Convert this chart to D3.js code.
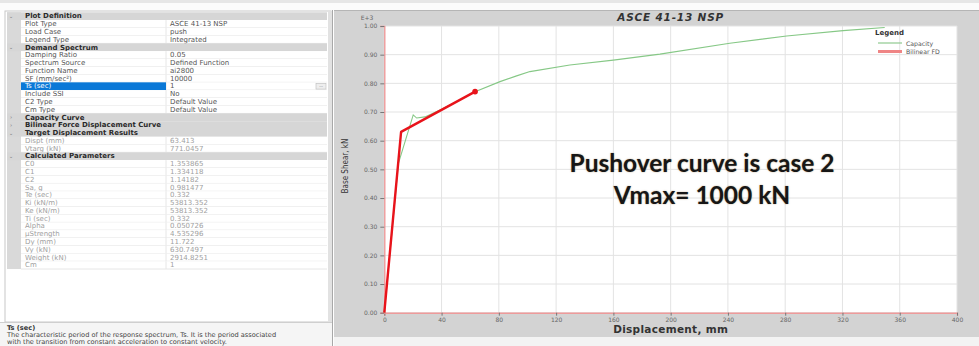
<!DOCTYPE html>
<html><head><meta charset="utf-8">
<script src="https://cdn.jsdelivr.net/npm/d3@7"></script>
<style>html,body{margin:0;padding:0;background:#fff;overflow:hidden}svg{display:block}</style>
</head><body>
<script>
// ---------- data ----------
const chartTitle = "ASCE 41-13 NSP";
const xTicks = [0,40,80,120,160,200,240,280,320,360,400];
const yTicks = [0,0.1,0.2,0.3,0.4,0.5,0.6,0.7,0.8,0.9,1.0];
const capacityX = [0,9.8,20.2,22.6,28.4,40,52,63.4,80.8,92.4,101.7,129.6,160,192.5,241.3,281,320.4,349.5];
const capacityY = [0,0.52,0.69,0.679,0.683,0.71,0.74,0.771,0.806,0.826,0.841,0.864,0.881,0.902,0.94,0.965,0.984,0.995];
const bilinearX = [0,11.722,63.413];
const bilinearY = [0,0.6307497,0.7710457];
const legendLabels = ["Capacity","Bilinear FD"];
const noteLines = ["Pushover curve is case 2","Vmax= 1000 kN"];

const propNames = ["Plot Definition","Plot Type","Load Case","Legend Type","Demand Spectrum","Damping Ratio","Spectrum Source","Function Name","SF (mm/sec²)","Ts (sec)","Include SSI","C2 Type","Cm Type","Capacity Curve","Bilinear Force Displacement Curve","Target Displacement Results","Dispt (mm)","Vtarg (kN)","Calculated Parameters","C0","C1","C2","Sa, g","Te (sec)","Ki (kN/m)","Ke (kN/m)","Ti (sec)","Alpha","μStrength","Dy (mm)","Vy (kN)","Weight (kN)","Cm"];
const propValues = ["","ASCE 41-13 NSP","push","Integrated","","0.05","Defined Function","ai2800","10000","1","No","Default Value","Default Value","","","","63.413","771.0457","","1.353865","1.334118","1.14182","0.981477","0.332","53813.352","53813.352","0.332","0.050726","4.535296","11.722","630.7497","2914.8251","1"];
// h = expanded header, c = collapsed header, e = editable, r = read-only, s = selected
const propKinds = ["h","e","e","e","h","e","e","e","e","s","e","e","e","c","c","h","r","r","h","r","r","r","r","r","r","r","r","r","r","r","r","r","r"];
const descTitle = "Ts (sec)";
const descLines = ["The characteristic period of the response spectrum, Ts.  It is the period associated","with the transition from constant acceleration to constant velocity."];

// ---------- drawing ----------
const W = 979, H = 346;
const svg = d3.select("body").append("svg").attr("width", W).attr("height", H);

// top toolbar strip
svg.append("rect").attr("x",0).attr("y",0).attr("width",W).attr("height",10).attr("fill","#fbfbfb");
svg.append("rect").attr("x",0).attr("y",0).attr("width",W).attr("height",3).attr("fill","#e6e6e6");

// ---- left property panel ----
const lp = svg.append("g");
lp.append("rect").attr("x",5).attr("y",11).attr("width",326).attr("height",311).attr("fill","#fff").attr("stroke","#c8c8c8");
const rowTop = 12.3, rowH = 7.78, colX = 166, rowRight = 327;
lp.append("rect").attr("x",7).attr("y",rowTop).attr("width",14).attr("height",rowH*propNames.length).attr("fill","#d9d9d9");
propNames.forEach((name,i) => {
  const k = propKinds[i], y0 = rowTop + i*rowH;
  const g = lp.append("g");
  if (k === "h" || k === "c") {
    g.append("rect").attr("x",7).attr("y",y0).attr("width",rowRight-7).attr("height",rowH).attr("fill","#d6d6d6");
    g.append("text").attr("x",11).attr("y",y0+5.8).attr("font-family","DejaVu Sans").attr("font-size",5.5)
      .attr("fill","#888").attr("text-anchor","middle").text(k==="h" ? "⌄" : "›");
    g.append("text").attr("x",25).attr("y",y0+6.1).attr("font-family","DejaVu Sans").attr("font-weight","bold")
      .attr("font-size",7).attr("fill","#2a2a2a").text(name);
  } else {
    g.append("rect").attr("x",21).attr("y",y0).attr("width",rowRight-21).attr("height",rowH).attr("fill","#fff");
    g.append("line").attr("x1",21).attr("x2",rowRight).attr("y1",y0+rowH).attr("y2",y0+rowH).attr("stroke","#e6e6e6");
    g.append("line").attr("x1",colX).attr("x2",colX).attr("y1",y0).attr("y2",y0+rowH).attr("stroke","#e6e6e6");
    if (k === "s") g.append("rect").attr("x",21).attr("y",y0).attr("width",colX-21).attr("height",rowH).attr("fill","#0a78d7");
    const c = k==="s" ? "#fff" : (k==="r" ? "#a0a0a0" : "#555");
    g.append("text").attr("x",25).attr("y",y0+6.1).attr("font-family","DejaVu Sans").attr("font-size",7).attr("fill",c).text(name);
    g.append("text").attr("x",170).attr("y",y0+6.1).attr("font-family","DejaVu Sans").attr("font-size",7)
      .attr("fill",k==="r" ? "#a0a0a0" : "#555").text(propValues[i]);
    if (k === "s") {
      g.append("rect").attr("x",316).attr("y",y0+1).attr("width",10).attr("height",rowH-2).attr("fill","#eee").attr("stroke","#bbb").attr("stroke-width",0.6);
      g.append("text").attr("x",321).attr("y",y0+5).attr("font-size",5).attr("text-anchor","middle").attr("fill","#666").text("...");
    }
  }
});
// panel right scrollbar edge
lp.append("rect").attr("x",328).attr("y",11).attr("width",4).attr("height",311).attr("fill","#e2e2e2");
lp.append("line").attr("x1",332.5).attr("x2",332.5).attr("y1",10).attr("y2",H).attr("stroke","#a8a8a8");
// description area
lp.append("rect").attr("x",0).attr("y",322).attr("width",332).attr("height",24).attr("fill","#f5f5f5");
lp.append("line").attr("x1",0).attr("x2",332).attr("y1",322.5).attr("y2",322.5).attr("stroke","#cfcfcf");
lp.append("text").attr("x",7).attr("y",329.5).attr("font-family","DejaVu Sans").attr("font-weight","bold").attr("font-size",6.6).attr("fill","#333").text(descTitle);
descLines.forEach((t,i)=> lp.append("text").attr("x",7).attr("y",337+i*7.3).attr("font-family","DejaVu Sans")
  .attr("font-size",6.6).attr("fill","#444").text(t));

// ---- right chart panel ----
svg.append("rect").attr("x",334).attr("y",10).attr("width",W-334).attr("height",327).attr("fill","#d3d3d3");
svg.append("line").attr("x1",334).attr("x2",W).attr("y1",10.5).attr("y2",10.5).attr("stroke","#b5b5b5");
svg.append("rect").attr("x",334).attr("y",337).attr("width",W-334).attr("height",9).attr("fill","#f3f3f3");

const x = d3.scaleLinear().domain([0,400]).range([384.3,957]);
const y = d3.scaleLinear().domain([0,1]).range([312.7,26]);

svg.append("rect").attr("x",x(0)).attr("y",y(1)).attr("width",x(400)-x(0)).attr("height",y(0)-y(1)).attr("fill","#fff");

// grid
const grid = svg.append("g").attr("stroke","#e3e3e3").attr("stroke-width",1);
xTicks.forEach(v => grid.append("line").attr("x1",x(v)).attr("x2",x(v)).attr("y1",y(0)).attr("y2",y(1)));
yTicks.forEach(v => grid.append("line").attr("x1",x(0)).attr("x2",x(400)).attr("y1",y(v)).attr("y2",y(v)));

// axes
const xAxis = svg.append("g").attr("transform",`translate(0,${y(0)})`)
  .call(d3.axisBottom(x).tickValues(xTicks).tickFormat(d3.format("d")).tickSize(3).tickPadding(2));
const yAxis = svg.append("g").attr("transform",`translate(${x(0)},0)`)
  .call(d3.axisLeft(y).tickValues(yTicks).tickFormat(d3.format(".2f")).tickSize(4).tickPadding(3));
[xAxis,yAxis].forEach(a => {
  a.select(".domain").attr("stroke","#ee9a9a").attr("stroke-width",1.4);
  a.selectAll(".tick line").attr("stroke","#777");
  a.selectAll(".tick text").attr("font-family","DejaVu Sans").attr("font-size",6).attr("fill","#666");
});
svg.append("text").attr("x",367).attr("y",19.5).attr("text-anchor","middle").attr("font-family","DejaVu Sans")
  .attr("font-size",6).attr("fill","#666").text("E+3");

// axis titles and chart title
svg.append("text").attr("transform",`translate(348,166) rotate(-90)`).attr("text-anchor","middle")
  .attr("font-family","DejaVu Sans Condensed, DejaVu Sans").attr("font-size",8).attr("fill","#333").text("Base Shear, kN");
svg.append("text").attr("x",(x(0)+x(400))/2).attr("y",333).attr("text-anchor","middle").attr("font-family","DejaVu Sans")
  .attr("font-weight","bold").attr("font-size",10.5).attr("fill","#333").attr("letter-spacing",0.3).text("Displacement, mm");
svg.append("text").attr("x",(x(0)+x(400))/2).attr("y",21).attr("text-anchor","middle").attr("font-family","DejaVu Sans")
  .attr("font-weight","bold").attr("font-style","italic").attr("font-size",10.5).attr("fill","#333").attr("letter-spacing",0.8).text(chartTitle);

// curves
const line = d3.line().x(d=>x(d[0])).y(d=>y(d[1]));
svg.append("path").datum(capacityX.map((v,i)=>[v,capacityY[i]])).attr("d",line)
  .attr("fill","none").attr("stroke","#86c886").attr("stroke-width",1.1);
svg.append("path").datum(bilinearX.map((v,i)=>[v,bilinearY[i]])).attr("d",line)
  .attr("fill","none").attr("stroke","#e8131b").attr("stroke-width",2.4).attr("stroke-linejoin","round");
svg.append("circle").attr("cx",x(bilinearX[2])).attr("cy",y(bilinearY[2])).attr("r",2.8).attr("fill","#e8131b");

// legend
const lg = svg.append("g");
lg.append("text").attr("x",875).attr("y",35).attr("font-family","DejaVu Sans").attr("font-weight","bold")
  .attr("font-size",7).attr("fill","#333").text("Legend");
lg.append("line").attr("x1",878).attr("x2",902).attr("y1",43).attr("y2",43).attr("stroke","#8fca8f").attr("stroke-width",1.2);
lg.append("line").attr("x1",878).attr("x2",902).attr("y1",51.5).attr("y2",51.5).attr("stroke","#ef8585").attr("stroke-width",3);
legendLabels.forEach((t,i)=> lg.append("text").attr("x",906).attr("y",45.5+i*8.5).attr("font-family","DejaVu Sans")
  .attr("font-size",6.2).attr("fill","#555").text(t));

// annotation
noteLines.forEach((t,i)=> svg.append("text").attr("x",702).attr("y",172+i*32).attr("text-anchor","middle")
  .attr("font-family","Lato").attr("font-weight","bold").attr("font-size",24.5).attr("fill","#161616")
  .style("text-shadow","0 0 1.5px rgba(120,80,20,0.6)").text(t));
</script>
</body></html>
